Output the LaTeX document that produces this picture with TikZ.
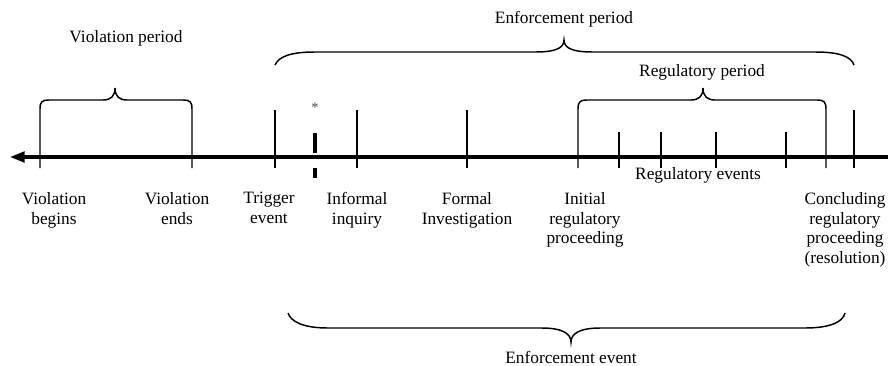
\documentclass[tikz,border=0pt]{standalone}
\usepackage{fontspec}
\setmainfont{Liberation Serif}
\usetikzlibrary{arrows.meta}
\newcommand\tickmark[3]{%
\draw[tickline] (#1,#2) -- (#1,#3);
}
% bracket with arms down to the line: left x, right x, tip x, bar y, foot y
\newcommand\armbrace[5]{%
\draw[bracestyle] (#1,#5) -- (#1,#4+9) .. controls (#1,#4+2) and (#1+2,#4) .. (#1+9,#4)
  -- (#3-12,#4) .. controls (#3-4,#4) and (#3,#4-4) .. (#3,#4-12)
  .. controls (#3,#4-4) and (#3+4,#4) .. (#3+12,#4)
  -- (#2-9,#4) .. controls (#2-2,#4) and (#2,#4+2) .. (#2,#4+9) -- (#2,#5);
}

\begin{document}
\begin{tikzpicture}[x=0.75pt,y=-0.75pt,every node/.style={font=\fontsize{13}{14.8}\selectfont,inner sep=0pt,align=center}]
	%% some definitions
	\tikzset{timeline/.style={line width=2.3pt,-{Triangle[length=11pt,width=8pt]}},
	         tickline/.style={line width=1.1pt},
	         bracestyle/.style={line width=1.1pt}}
	\useasboundingbox (0,0) rectangle (888,365);

	\def\axisY{157} % the time line
	\def\tickTop{110}
	\def\tickBot{168}
	\def\eventTop{132}

	% time line
	\draw[timeline] (888,\axisY) -- (10,\axisY);

	% violation period
	\armbrace{40}{192}{115}{100}{\tickBot}
	\node[anchor=base] (violper) at (126,42) {Violation period};

	% enforcement period
	\draw[bracestyle] (275,65) .. controls (279,56) and (292,52) .. (315,52)
	  -- (535,52) .. controls (556,52) and (564,48) .. (564,40)
	  .. controls (564,48) and (572,52) .. (593,52)
	  -- (815,52) .. controls (838,52) and (851,56) .. (854,65);
	\node[anchor=base] (enfper) at (564,23) {Enforcement period};

	% regulatory period
	\armbrace{578}{826}{703}{100}{\tickBot}
	\node[anchor=base] (regper) at (702,76) {Regulatory period};

	% events on the line
	\tickmark{275}{\tickTop}{\tickBot}
	\tickmark{357}{\tickTop}{\tickBot}
	\tickmark{467}{\tickTop}{\tickBot}
	\tickmark{854}{\tickTop}{\tickBot}
	\foreach \x in {619,661,716,786}{
	  \tickmark{\x}{\eventTop}{\tickBot}
	}

	% starred mark
	\draw[line width=3.2pt] (315,133) -- (315,153);
	\draw[line width=3.2pt] (315,168) -- (315,178);
	\node[font=\fontsize{11}{12}\selectfont,text=black!70] (star) at (315,108) {*};

	% labels under the line
	\node[anchor=base] (regev) at (698,179) {Regulatory events};
	\node[anchor=north] (vbeg) at (54,192) {Violation\\begins};
	\node[anchor=north] (vend) at (177,192) {Violation\\ends};
	\node[anchor=north] (trig) at (269,192) {Trigger\\event};
	\node[anchor=north] (inf) at (357,192) {Informal\\inquiry};
	\node[anchor=north] (formal) at (467,192) {Formal\\Investigation};
	\node[anchor=north] (initial) at (585,192) {Initial\\regulatory\\proceeding};
	\node[anchor=north] (concl) at (845,192) {Concluding\\regulatory\\proceeding\\(resolution)};

	% enforcement event
	\draw[bracestyle] (288,313) .. controls (291,322) and (304,328) .. (328,328)
	  -- (542,328) .. controls (563,328) and (571,334) .. (571,342)
	  .. controls (571,334) and (579,328) .. (600,328)
	  -- (805,328) .. controls (830,328) and (843,322) .. (845,313);
	\node[anchor=base] (enfev) at (571,363) {Enforcement event};

\end{tikzpicture}
\end{document}
